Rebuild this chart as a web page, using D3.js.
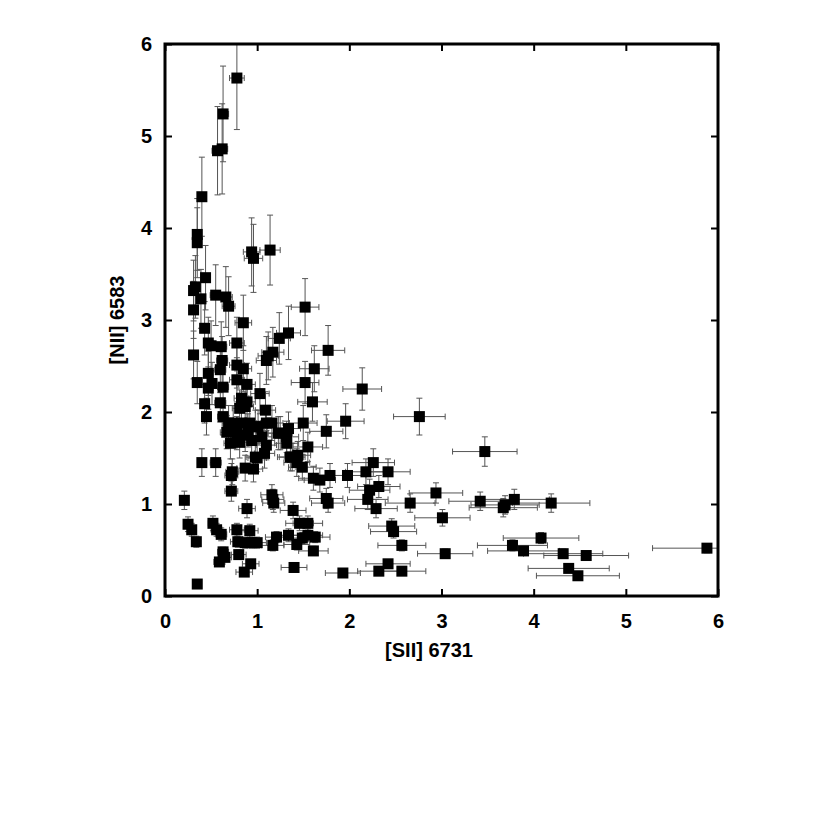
<!DOCTYPE html>
<html>
<head>
<meta charset="utf-8">
<script src="https://cdn.jsdelivr.net/npm/d3@7"></script>
<style>
  body { margin: 0; background: #fff; }
  svg { display: block; }
  text { font-family: "Liberation Sans", Arial, sans-serif; font-weight: bold; }
</style>
</head>
<body>
<svg id="chart" width="830" height="830"></svg>
<script>
// [SII] 6731 values
const sii = [0.78,0.63,0.57,0.62,0.40,0.35,0.35,0.94,0.96,1.14,0.44,0.33,0.31,0.39,0.55,0.66,0.69,0.31,0.85,0.43,
  0.47,0.50,0.61,0.78,0.31,1.52,1.34,1.24,1.17,1.12,1.10,1.77,0.62,0.60,0.78,0.85,0.47,0.35,0.51,0.47,
  0.63,0.78,0.89,1.62,1.52,1.60,2.14,1.03,1.09,0.43,0.60,0.45,0.83,0.89,0.81,0.87,0.63,0.69,0.74,0.83,
  0.92,0.98,0.67,0.78,0.87,0.71,0.81,0.94,0.98,1.10,1.01,1.50,1.75,1.96,2.76,1.23,1.34,1.32,1.32,1.55,
  1.05,1.08,1.00,1.38,1.44,1.43,1.49,1.61,1.68,1.79,1.98,3.47,0.40,0.55,0.73,0.72,0.87,0.96,0.72,0.21,
  0.89,1.16,1.17,1.18,1.39,1.75,1.77,2.18,2.26,2.42,2.32,2.22,2.20,2.29,2.66,2.94,3.01,3.42,3.67,3.69,
  3.79,4.19,2.46,2.48,2.57,3.04,3.77,3.89,4.08,4.32,4.57,4.38,4.48,5.88,2.42,2.32,2.57,1.93,0.25,0.29,
  0.34,0.35,0.52,0.56,0.61,0.78,0.92,0.79,0.87,0.94,1.00,0.63,0.65,0.59,0.80,0.93,0.86,1.17,1.21,1.34,
  1.43,1.46,1.55,1.49,1.55,1.63,1.61,1.40,0.90,1.25,1.36,1.16,1.10];
// [NII] 6583 values
const nii = [5.63,5.24,4.84,4.86,4.34,3.93,3.84,3.74,3.67,3.76,3.46,3.36,3.32,3.23,3.27,3.25,3.15,3.11,2.97,2.91,
  2.75,2.72,2.71,2.75,2.62,3.14,2.86,2.80,2.65,2.61,2.56,2.67,2.56,2.46,2.51,2.47,2.42,2.32,2.31,2.26,
  2.27,2.35,2.30,2.47,2.32,2.11,2.25,2.20,2.02,2.09,2.10,1.95,2.15,2.11,2.04,2.06,1.95,1.88,1.88,1.88,
  1.88,1.84,1.78,1.77,1.75,1.66,1.67,1.69,1.51,1.88,1.84,1.88,1.79,1.90,1.95,1.77,1.82,1.73,1.66,1.62,
  1.73,1.55,1.50,1.51,1.53,1.45,1.40,1.28,1.26,1.31,1.31,1.57,1.45,1.45,1.35,1.31,1.39,1.38,1.14,1.04,
  0.95,1.10,1.05,1.01,0.93,1.06,1.01,1.35,1.45,1.35,1.19,1.15,1.05,0.95,1.01,1.12,0.85,1.03,0.96,0.99,
  1.05,1.01,0.76,0.70,0.55,0.46,0.55,0.49,0.63,0.46,0.44,0.30,0.22,0.52,0.35,0.27,0.27,0.25,0.78,0.72,
  0.59,0.13,0.79,0.72,0.67,0.72,0.71,0.59,0.58,0.58,0.58,0.48,0.42,0.37,0.45,0.35,0.26,0.55,0.64,0.66,
  0.56,0.79,0.79,0.63,0.66,0.64,0.49,0.31,1.80,1.77,1.51,1.88,1.64];
// horizontal error (±) on [SII]
const siiErr = [0.08,0.06,0.06,0.06,0.04,0.04,0.04,0.09,0.10,0.11,0.04,0.03,0.03,0.04,0.06,0.07,0.07,0.03,0.09,0.04,
  0.05,0.05,0.06,0.08,0.03,0.15,0.13,0.12,0.12,0.11,0.11,0.18,0.06,0.06,0.08,0.09,0.05,0.04,0.05,0.05,
  0.06,0.08,0.09,0.16,0.15,0.16,0.21,0.10,0.11,0.04,0.06,0.05,0.08,0.09,0.08,0.09,0.06,0.07,0.07,0.08,
  0.09,0.10,0.07,0.08,0.09,0.07,0.08,0.09,0.10,0.11,0.10,0.15,0.18,0.20,0.28,0.12,0.13,0.13,0.13,0.16,
  0.11,0.11,0.10,0.14,0.14,0.14,0.15,0.16,0.17,0.18,0.20,0.35,0.04,0.06,0.07,0.07,0.09,0.10,0.07,0.02,
  0.09,0.12,0.12,0.12,0.14,0.18,0.18,0.22,0.23,0.24,0.23,0.22,0.22,0.23,0.27,0.29,0.30,0.34,0.37,0.37,
  0.38,0.42,0.25,0.25,0.26,0.30,0.38,0.39,0.41,0.43,0.46,0.44,0.45,0.59,0.24,0.23,0.26,0.19,0.03,0.03,
  0.03,0.04,0.05,0.06,0.06,0.08,0.09,0.08,0.09,0.09,0.10,0.06,0.07,0.06,0.08,0.09,0.09,0.12,0.12,0.13,
  0.14,0.15,0.16,0.15,0.16,0.16,0.16,0.14,0.09,0.13,0.14,0.12,0.11];
// vertical error (±) on [NII]
const niiErr = [0.56,0.52,0.48,0.49,0.43,0.39,0.38,0.37,0.37,0.38,0.35,0.34,0.33,0.32,0.33,0.33,0.32,0.31,0.30,0.29,
  0.28,0.27,0.27,0.28,0.26,0.31,0.29,0.28,0.27,0.26,0.26,0.27,0.26,0.25,0.25,0.25,0.24,0.23,0.23,0.23,
  0.23,0.24,0.23,0.25,0.23,0.21,0.23,0.22,0.20,0.21,0.21,0.20,0.22,0.21,0.20,0.21,0.20,0.19,0.19,0.19,
  0.19,0.18,0.18,0.18,0.18,0.17,0.17,0.17,0.15,0.19,0.18,0.19,0.18,0.19,0.20,0.18,0.18,0.17,0.17,0.16,
  0.17,0.16,0.15,0.15,0.15,0.15,0.14,0.13,0.13,0.13,0.13,0.16,0.15,0.15,0.14,0.13,0.14,0.14,0.11,0.10,
  0.10,0.11,0.11,0.10,0.09,0.11,0.10,0.14,0.15,0.14,0.12,0.12,0.11,0.10,0.10,0.11,0.09,0.10,0.10,0.10,
  0.11,0.10,0.08,0.07,0.06,0.05,0.06,0.05,0.06,0.05,0.04,0.03,0.02,0.05,0.04,0.03,0.03,0.03,0.08,0.07,
  0.06,0.01,0.08,0.07,0.07,0.07,0.07,0.06,0.06,0.06,0.06,0.05,0.04,0.04,0.05,0.04,0.03,0.06,0.06,0.07,
  0.06,0.08,0.08,0.06,0.07,0.06,0.05,0.03,0.18,0.18,0.15,0.19,0.16];
const xTicks = [0,1,2,3,4,5,6];
const yTicks = [0,1,2,3,4,5,6];
const xTitle = "[SII] 6731";
const yTitle = "[NII] 6583";

const svg = d3.select("#chart");
const L = 165, R = 718, T = 44, B = 596;
const x = d3.scaleLinear().domain([0, 6]).range([L, R]);
const y = d3.scaleLinear().domain([0, 6]).range([B, T]);

const pts = sii.map((v, i) => ({x: v, y: nii[i], ex: siiErr[i], ey: niiErr[i]}));

svg.append("clipPath").attr("id", "clip")
  .append("rect").attr("x", L).attr("y", T).attr("width", R - L).attr("height", B - T);

const g = svg.append("g").attr("clip-path", "url(#clip)");
const errCol = "#555";
const cap = 3;
const eb = g.append("g").attr("stroke", errCol).attr("stroke-width", 1).attr("fill", "none");
pts.forEach(p => {
  const cx = x(p.x), cy = y(p.y);
  const x0 = x(p.x - p.ex), x1 = x(p.x + p.ex);
  const y0 = y(p.y - p.ey), y1 = y(p.y + p.ey);
  eb.append("line").attr("x1", x0).attr("x2", x1).attr("y1", cy).attr("y2", cy);
  eb.append("line").attr("x1", x0).attr("x2", x0).attr("y1", cy - cap).attr("y2", cy + cap);
  eb.append("line").attr("x1", x1).attr("x2", x1).attr("y1", cy - cap).attr("y2", cy + cap);
  eb.append("line").attr("x1", cx).attr("x2", cx).attr("y1", y0).attr("y2", y1);
  eb.append("line").attr("x1", cx - cap).attr("x2", cx + cap).attr("y1", y0).attr("y2", y0);
  eb.append("line").attr("x1", cx - cap).attr("x2", cx + cap).attr("y1", y1).attr("y2", y1);
});
const s = 11;
g.append("g").selectAll("rect").data(pts).join("rect")
  .attr("x", d => x(d.x) - s / 2).attr("y", d => y(d.y) - s / 2)
  .attr("width", s).attr("height", s).attr("fill", "#000");

// axes with inward ticks on all sides
const tl = 7;
const fs = 20;
svg.append("g").attr("transform", `translate(0,${B})`)
  .call(d3.axisBottom(x).tickValues(xTicks).tickSize(-tl).tickPadding(18).tickFormat(d3.format("d")))
  .call(a => a.select(".domain").remove())
  .call(a => a.selectAll("line").attr("stroke", "#000").attr("stroke-width", 2))
  .call(a => a.selectAll("text").attr("font-size", fs).attr("fill", "#000")
      .attr("font-family", "Liberation Sans, Arial, sans-serif").attr("font-weight", "bold"));
svg.append("g").attr("transform", `translate(0,${T})`)
  .call(d3.axisTop(x).tickValues(xTicks).tickSize(-tl).tickFormat(""))
  .call(a => a.select(".domain").remove())
  .call(a => a.selectAll("line").attr("stroke", "#000").attr("stroke-width", 2));
svg.append("g").attr("transform", `translate(${L},0)`)
  .call(d3.axisLeft(y).tickValues(yTicks).tickSize(-tl).tickPadding(13).tickFormat(d3.format("d")))
  .call(a => a.select(".domain").remove())
  .call(a => a.selectAll("line").attr("stroke", "#000").attr("stroke-width", 2))
  .call(a => a.selectAll("text").attr("font-size", fs).attr("fill", "#000")
      .attr("font-family", "Liberation Sans, Arial, sans-serif").attr("font-weight", "bold"));
svg.append("g").attr("transform", `translate(${R},0)`)
  .call(d3.axisRight(y).tickValues(yTicks).tickSize(-tl).tickFormat(""))
  .call(a => a.select(".domain").remove())
  .call(a => a.selectAll("line").attr("stroke", "#000").attr("stroke-width", 2));

svg.append("rect").attr("x", L).attr("y", T).attr("width", R - L).attr("height", B - T)
  .attr("fill", "none").attr("stroke", "#000").attr("stroke-width", 3);

svg.append("text").attr("x", 429).attr("y", 657).attr("text-anchor", "middle")
  .attr("font-size", fs).attr("fill", "#000").text(xTitle);
svg.append("text").attr("transform", `translate(124,320) rotate(-90)`).attr("text-anchor", "middle")
  .attr("font-size", fs).attr("fill", "#000").text(yTitle);
</script>
</body>
</html>
